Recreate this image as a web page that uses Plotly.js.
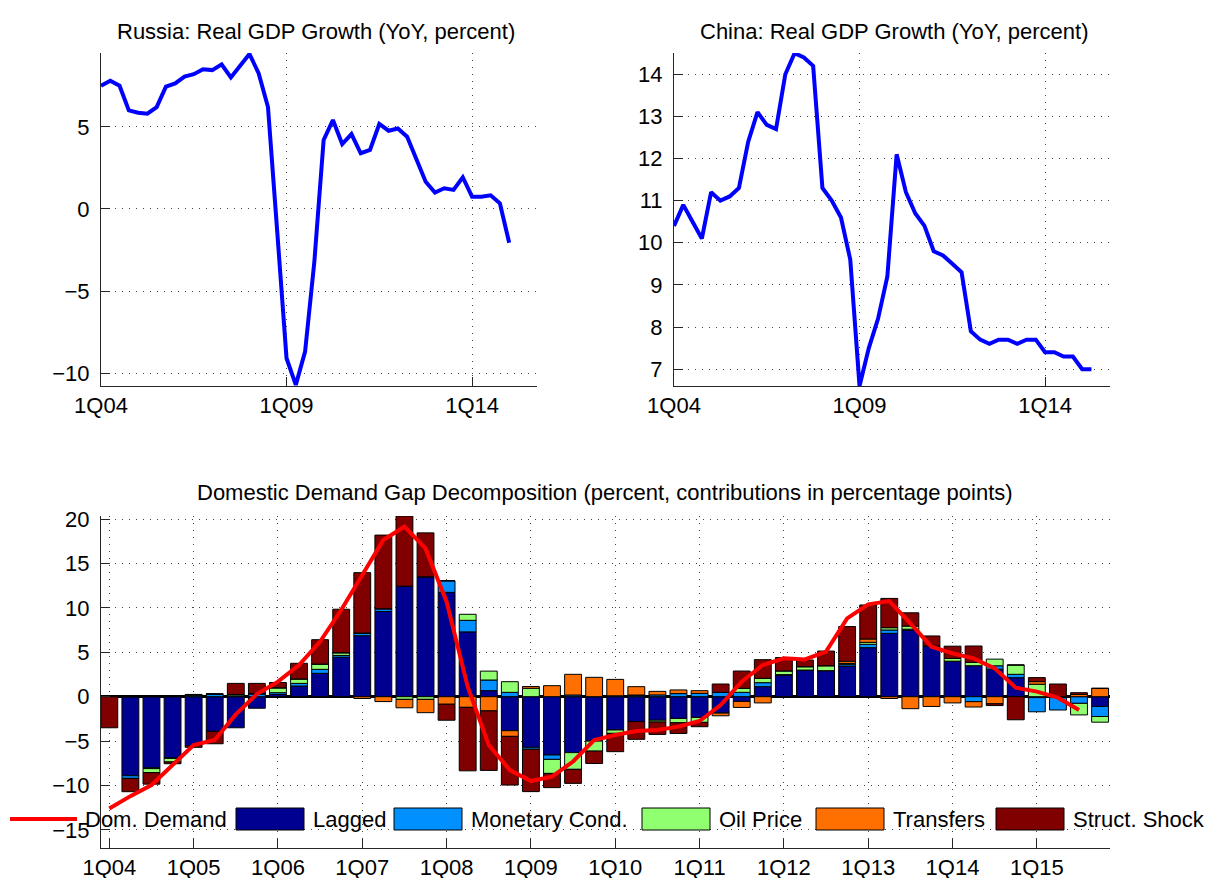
<!DOCTYPE html>
<html><head><meta charset="utf-8">
<script src="https://cdn.plot.ly/plotly-3.0.1.min.js"></script>
<style>html,body{margin:0;padding:0;background:#fff}#chart{width:1206px;height:878px}</style>
</head><body><div id="chart"></div>
<script>
// ---------- DATA ----------
const quarters = ['1Q04','2Q04','3Q04','4Q04','1Q05','2Q05','3Q05','4Q05','1Q06','2Q06','3Q06','4Q06',
  '1Q07','2Q07','3Q07','4Q07','1Q08','2Q08','3Q08','4Q08','1Q09','2Q09','3Q09','4Q09',
  '1Q10','2Q10','3Q10','4Q10','1Q11','2Q11','3Q11','4Q11','1Q12','2Q12','3Q12','4Q12',
  '1Q13','2Q13','3Q13','4Q13','1Q14','2Q14','3Q14','4Q14','1Q15','2Q15','3Q15','4Q15'];

const russiaGDP = [7.5,7.8,7.5,6.0,5.86,5.8,6.2,7.44,7.64,8.05,8.2,8.5,8.45,8.8,8.0,8.75,9.43,8.25,6.2,-1.4,
  -9.08,-10.7,-8.68,-3.2,4.2,5.41,3.95,4.56,3.39,3.59,5.17,4.76,4.9,4.4,3.08,1.66,1.0,1.26,1.16,1.93,
  0.75,0.75,0.83,0.35,-2.05];

const chinaGDP = [10.4,10.9,10.5,10.1,11.2,11.0,11.1,11.3,12.4,13.1,12.8,12.7,14.0,14.5,14.4,14.2,11.3,11.0,10.6,9.6,
  6.6,7.5,8.2,9.2,12.1,11.2,10.7,10.4,9.8,9.7,9.5,9.3,7.9,7.7,7.6,7.7,7.7,7.6,7.7,7.7,7.4,7.4,7.3,7.3,7.0,7.0];

const lagged = [0,-8.9,-8.0,-6.9,-5.5,-3.9,-3.5,-1.3,0.25,1.2,2.63,4.45,6.87,9.6,12.45,13.5,11.75,7.3,0.68,-3.83,
  -5.7,-6.57,-6.3,-5.0,-3.75,-2.8,-2.65,-2.45,-2.33,-1.85,-0.53,1.13,2.44,3.0,2.93,3.45,5.52,7.13,7.5,5.71,
  4.0,3.49,3.1,2.14,-0.1,-0.1,0,-1.1];
const monetaryCond = [0,-0.3,-0.1,-0.05,0.15,0.3,0.1,0.3,0.2,0.3,0.45,0.2,0.25,0.3,0,0,1.3,1.3,1.2,0.49,
  -0.22,-0.49,0.19,0,0.1,0.19,0.2,0.35,0.38,0.49,0.49,0.45,0.05,0,0,0.2,0.38,0.38,0.1,0,
  0,-0.56,0.38,0.38,-1.6,-1.4,-0.75,-1.13];
const oilPrice = [0,0,-0.45,-0.4,0.1,0,0.15,0.05,0.55,0.5,0.6,0.3,0.05,0,-0.3,-0.3,0,0.68,1.0,1.2,
  0.95,-1.58,-1.88,-1.13,-0.38,0,-0.2,-0.49,-0.56,0,0.45,0.49,0.42,0.38,0.56,0.1,0.22,0.26,0.35,0,
  0.3,0.38,0.75,1.05,1.4,0,-1.3,-0.64];
const transfers = [0,0,0,0,0,0,0,0,0,0,0,0,-0.2,-0.55,-0.95,-1.5,-0.85,-1.2,-1.6,-0.64,
  0.2,1.24,2.33,2.18,1.85,0.94,0.4,0.41,0.3,-0.3,-0.68,-0.7,0,0,0,0.25,0.38,-0.2,-1.35,-1.1,
  -0.7,-0.6,-0.8,0,0.3,0,0.25,0.94];
const structShock = [-3.5,-1.5,-1.3,-0.2,-0.2,-1.4,1.25,1.15,0.6,1.76,2.74,4.9,6.8,8.3,7.9,4.95,-1.8,-7.15,-6.7,-5.48,
  -4.77,-1.6,-1.58,-1.39,-2.06,-2.0,-1.4,-1.2,-0.49,0.94,1.95,2.1,1.5,0.75,1.65,3.9,3.83,3.3,1.5,1.13,
  1.39,1.84,-0.2,-2.6,0.45,1.43,0.2,0];
const domDemand = [-12.6,-11.2,-9.95,-7.7,-5.44,-4.88,-1.99,0.3,1.69,3.57,6.2,9.76,13.7,17.65,19.15,16.7,10.7,1.13,-5.44,-8.26,
  -9.5,-9.0,-7.3,-4.88,-4.32,-3.87,-3.76,-3.37,-2.74,-0.94,1.69,3.57,4.32,4.2,5.07,8.82,10.4,10.77,8.26,5.63,
  4.88,4.32,3.19,1.01,0.57,-0.11,-1.5];

const seriesNames = ['Lagged','Monetary Cond.','Oil Price','Transfers','Struct. Shock'];
const lineName = 'Dom. Demand';
const titleRussia = 'Russia: Real GDP Growth (YoY, percent)';
const titleChina = 'China: Real GDP Growth (YoY, percent)';
const titleBottom = 'Domestic Demand Gap Decomposition (percent, contributions in percentage points)';

// ---------- STYLE ----------
const components = [lagged, monetaryCond, oilPrice, transfers, structShock];
const barColors = ['#000090','#0090FF','#90FF70','#FF7000','#800000'];
const W = 1206, H = 878;
const px = x => x / W;
const py = y => 1 - y / H;
const FONT = '"Liberation Sans", Arial, Helvetica, sans-serif';
const FS = 22;

const traces = [];
traces.push({type:'scatter', mode:'lines', x:quarters.slice(0, russiaGDP.length), y:russiaGDP,
  xaxis:'x', yaxis:'y', line:{color:'#0000FF', width:4}, showlegend:false, hoverinfo:'x+y'});
traces.push({type:'scatter', mode:'lines', x:quarters.slice(0, chinaGDP.length), y:chinaGDP,
  xaxis:'x2', yaxis:'y2', line:{color:'#0000FF', width:4}, showlegend:false, hoverinfo:'x+y'});
components.forEach((vals, k) => {
  traces.push({type:'bar', x:quarters.slice(0, vals.length), y:vals, name:seriesNames[k],
    xaxis:'x3', yaxis:'y3', width:0.8,
    marker:{color:barColors[k], line:{color:'#000', width:1}}, showlegend:false});
});
traces.push({type:'scatter', mode:'lines', x:quarters.slice(0, domDemand.length), y:domDemand, name:lineName,
  xaxis:'x3', yaxis:'y3', line:{color:'#FF0000', width:4}, showlegend:false});

const axBase = {showline:true, linecolor:'#262626', linewidth:1, ticks:'inside', ticklen:9, tickcolor:'#262626',
  showgrid:true, gridcolor:'#444', griddash:'1px,6px', gridwidth:1, zeroline:false,
  tickfont:{size:FS, color:'#000', family:FONT}, automargin:false, fixedrange:true};
const yearTicks = quarters.filter(q => q.startsWith('1Q'));
const topTicks = ['1Q04','1Q09','1Q14'];

const layout = {
  width:W, height:H, margin:{l:0, r:0, t:0, b:0}, paper_bgcolor:'#fff', plot_bgcolor:'rgba(0,0,0,0)',
  font:{family:FONT, size:FS, color:'#000'}, showlegend:false, barmode:'relative', bargap:0.2,
  xaxis: Object.assign({}, axBase, {domain:[px(101), px(537)], type:'category', categoryorder:'array', categoryarray:quarters,
    range:[0, 47], tickvals:topTicks, ticklabelstandoff:0, anchor:'y'}),
  yaxis: Object.assign({}, axBase, {domain:[py(386), py(53)], range:[-10.77, 9.49], tickvals:[-10,-5,0,5], ticklabelstandoff:6, anchor:'x'}),
  xaxis2: Object.assign({}, axBase, {domain:[px(674), px(1110)], type:'category', categoryorder:'array', categoryarray:quarters,
    range:[0, 47], tickvals:topTicks, ticklabelstandoff:0, anchor:'y2'}),
  yaxis2: Object.assign({}, axBase, {domain:[py(386), py(53)], range:[6.6, 14.505], dtick:1, tick0:0, ticklabelstandoff:6, anchor:'x2'}),
  xaxis3: Object.assign({}, axBase, {domain:[px(101), px(1110)], type:'category', categoryorder:'array', categoryarray:quarters,
    range:[-0.394, 47.47], tickvals:yearTicks, ticklabelstandoff:0, anchor:'y3'}),
  yaxis3: Object.assign({}, axBase, {domain:[py(848), py(516)], range:[-17.04, 20.35], dtick:5, tick0:0, ticklabelstandoff:6,
    zeroline:true, zerolinecolor:'#000', zerolinewidth:3, anchor:'x3'}),
  annotations: [],
  shapes: []
};

function addText(text, x, y, anchor) {
  layout.annotations.push({text:text, xref:'paper', yref:'paper', x:px(x), y:py(y), xanchor:anchor, yanchor:'middle',
    showarrow:false, font:{size:FS, color:'#000', family:FONT}});
}
addText(titleRussia, 316, 31, 'center');
addText(titleChina, 894, 31, 'center');
addText(titleBottom, 605, 492, 'center');

// legend (drawn manually to reproduce the wide swatches)
const legY = 819;
layout.shapes.push({type:'line', xref:'paper', yref:'paper', x0:px(10), x1:px(77), y0:py(legY), y1:py(legY),
  line:{color:'#FF0000', width:4}});
addText(lineName, 83, legY, 'left');
const swatchX = [236, 394, 642, 816, 996];
seriesNames.forEach((nm, k) => {
  const x0 = swatchX[k];
  layout.shapes.push({type:'rect', xref:'paper', yref:'paper', x0:px(x0), x1:px(x0 + 68), y0:py(legY + 11), y1:py(legY - 11),
    fillcolor:barColors[k], line:{color:'#000', width:1}});
  addText(nm, x0 + 75, legY, 'left');
});

Plotly.newPlot('chart', traces, layout, {staticPlot:true, displayModeBar:false});
</script>
</body></html>
